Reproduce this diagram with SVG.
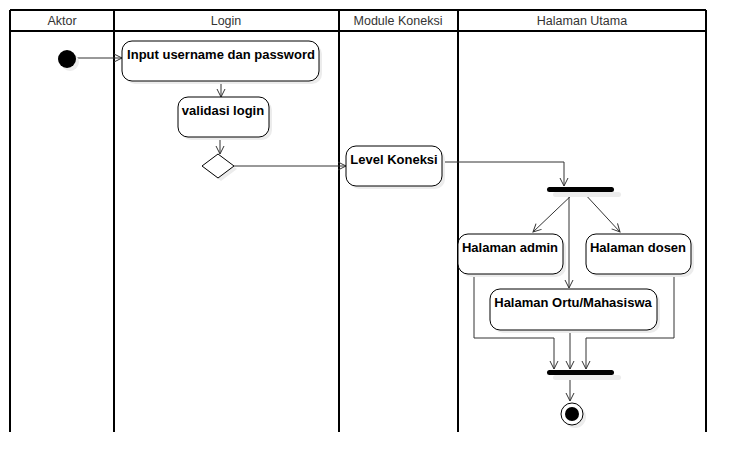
<svg xmlns="http://www.w3.org/2000/svg" width="746" height="474" viewBox="0 0 746 474">
<defs>
<marker id="arr" markerWidth="10" markerHeight="10" refX="9" refY="5" orient="auto" markerUnits="userSpaceOnUse">
<path d="M1,1 L9,5 L1,9" fill="none" stroke="#333" stroke-width="1"/>
</marker>
</defs>
<style>
.lane{stroke:#000;stroke-width:2;fill:none}
.hdr{font-family:"Liberation Sans",Arial,sans-serif;font-size:12.5px;fill:#333;text-anchor:middle}
.box{fill:#fff;stroke:#000;stroke-width:1}
.sh{fill:#ececec;stroke:none}
.lbl{font-family:"Liberation Sans",Arial,sans-serif;font-size:13px;font-weight:bold;fill:#000;text-anchor:middle}
.c{fill:none;stroke:#333;stroke-width:1;marker-end:url(#arr)}
.cl{fill:none;stroke:#333;stroke-width:1}
</style>
<rect width="746" height="474" fill="#fff"/>
<g id="lanes">
<path class="lane" d="M10,10 H706 M10,31 H706 M10,10 V432 M114,10 V432 M339,10 V432 M458,10 V432 M706,10 V432"/>
<text class="hdr" x="62" y="25">Aktor</text>
<text class="hdr" x="226" y="25">Login</text>
<text class="hdr" x="398" y="25">Module Koneksi</text>
<text class="hdr" x="582" y="25">Halaman Utama</text>
</g>
<g id="connectors">
<path class="c" d="M76,58 H122"/>
<path class="c" d="M221,82 V97"/>
<path class="c" d="M220,137 V154"/>
<path class="c" d="M234,166 H346"/>
<path class="c" d="M442,162 H564 V186"/>
<path class="c" d="M575,192 L533,232"/>
<path class="c" d="M583,192 L620,232"/>
<path class="c" d="M569,192 V288"/>
<path class="c" d="M474,274 V338 H554 V369"/>
<path class="c" d="M674,274 V338 H586 V369"/>
<path class="c" d="M570,330 V369"/>
<path class="c" d="M570,375 V401"/>
</g>
<g id="start">
<circle cx="70" cy="62" r="9" class="sh"/>
<circle cx="67" cy="59" r="9" fill="#000"/>
</g>
<g id="input">
<rect class="sh" x="125" y="44" width="197" height="40" rx="10"/>
<rect class="box" x="122" y="41" width="197" height="40" rx="10"/>
<text class="lbl" x="221" y="59">Input username dan password</text>
</g>
<g id="validasi">
<rect class="sh" x="181" y="100" width="91" height="40" rx="10"/>
<rect class="box" x="178" y="97" width="91" height="40" rx="10"/>
<text class="lbl" x="223" y="115">validasi login</text>
</g>
<g id="decision">
<path class="sh" d="M221,157 L237,169 L221,181 L205,169 Z"/>
<path class="box" d="M218,154 L234,166 L218,178 L202,166 Z"/>
</g>
<g id="level">
<rect class="sh" x="349" y="149" width="96" height="40" rx="10"/>
<rect class="box" x="346" y="146" width="96" height="40" rx="10"/>
<text class="lbl" x="394" y="164">Level Koneksi</text>
</g>
<g id="fork">
<rect class="sh" x="553" y="192" width="68" height="5" rx="2.5"/>
<rect x="547" y="187" width="67" height="5" rx="2.5" fill="#000"/>
</g>
<g id="admin">
<rect class="sh" x="461" y="237" width="105" height="40" rx="10"/>
<rect class="box" x="458" y="234" width="105" height="40" rx="10"/>
<text class="lbl" x="510" y="252">Halaman admin</text>
</g>
<g id="dosen">
<rect class="sh" x="589" y="237" width="105" height="40" rx="10"/>
<rect class="box" x="586" y="234" width="105" height="40" rx="10"/>
<text class="lbl" x="638" y="252">Halaman dosen</text>
</g>
<g id="ortu">
<rect class="sh" x="493" y="292" width="167" height="41" rx="10"/>
<rect class="box" x="490" y="289" width="167" height="41" rx="10"/>
<text class="lbl" x="573" y="307">Halaman Ortu/Mahasiswa</text>
</g>
<g id="join">
<rect class="sh" x="553" y="375" width="68" height="5" rx="2.5"/>
<rect x="547" y="370" width="67" height="5" rx="2.5" fill="#000"/>
</g>
<g id="end">
<circle cx="575" cy="417" r="11" class="sh"/>
<circle cx="572" cy="414" r="11" fill="#fff" stroke="#000" stroke-width="1"/>
<circle cx="572" cy="414" r="7" fill="#000"/>
</g>
</svg>
